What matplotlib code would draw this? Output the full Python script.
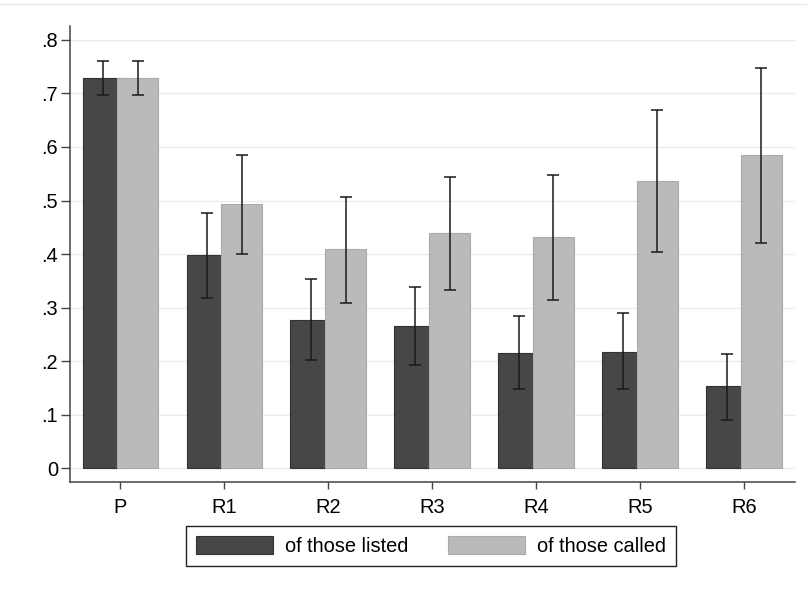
import matplotlib

matplotlib.use("Agg")
import matplotlib.pyplot as plt  # noqa: E402
import numpy as np  # noqa: E402
from matplotlib.lines import Line2D  # noqa: E402

plt.rcParams["font.family"] = ["Liberation Sans", "DejaVu Sans"]

groups = ["P", "R1", "R2", "R3", "R4", "R5", "R6"]

# share of those listed, with 95% CI
listed = [0.729, 0.398, 0.277, 0.266, 0.216, 0.218, 0.153]
listed_lo = [0.697, 0.319, 0.202, 0.193, 0.148, 0.148, 0.090]
listed_hi = [0.760, 0.477, 0.353, 0.339, 0.285, 0.290, 0.213]

# share of those called, with 95% CI
called = [0.729, 0.493, 0.409, 0.440, 0.431, 0.536, 0.584]
called_lo = [0.697, 0.401, 0.309, 0.333, 0.314, 0.403, 0.420]
called_hi = [0.760, 0.584, 0.507, 0.543, 0.548, 0.668, 0.748]

DARK = "#474747"
LIGHT = "#bababa"
FS = 14.4

fig = plt.figure(figsize=(8.07, 5.91), dpi=100)
W, H = 807, 591
ax = fig.add_axes([70 / W, 1 - 482 / H, 725 / W, 456 / H])

x = np.arange(len(groups))
width = 0.395
off = 0.167

ax.bar(x - off, listed, width, color=DARK, edgecolor="#333333", linewidth=0.8, zorder=2,
       label="of those listed")
ax.bar(x + off, called, width, color=LIGHT, edgecolor="#aaaaaa", linewidth=0.8, zorder=3,
       label="of those called")

for xs, v, lo, hi in [(x - off, listed, listed_lo, listed_hi),
                      (x + off, called, called_lo, called_hi)]:
    v = np.array(v)
    yerr = [v - np.array(lo), np.array(hi) - v]
    ax.errorbar(xs, v, yerr=yerr, fmt="none", ecolor="#1a1a1a", elinewidth=1.1,
                capsize=4.5, capthick=1.1, zorder=4)

ax.set_xlim(-0.486, 6.492)
ax.set_ylim(-0.0252, 0.8256)
yt = np.arange(0, 0.81, 0.1)
ax.set_yticks(yt)
ax.set_yticklabels(["0"] + [f"{t:.1f}".lstrip("0") for t in yt[1:]])
ax.set_xticks(x)
ax.set_xticklabels(groups)

ax.grid(axis="y", color="#ebebeb", linewidth=1.0, zorder=0)
ax.set_axisbelow(True)
for s in ("top", "right"):
    ax.spines[s].set_visible(False)
for s in ("left", "bottom"):
    ax.spines[s].set_color("#444444")
    ax.spines[s].set_linewidth(1.1)
ax.tick_params(axis="y", length=6.7, width=1.0, color="#444444", labelsize=FS, pad=2)
ax.tick_params(axis="x", length=4.8, width=1.0, color="#444444", labelsize=FS, pad=7)

leg = fig.legend(loc="center", bbox_to_anchor=(431 / W, 1 - 546 / H), ncol=2,
                 fontsize=FS, handlelength=3.85, handleheight=1.0, handletextpad=0.6,
                 columnspacing=2.0, borderpad=0.5, fancybox=False, framealpha=1)
leg.get_frame().set_edgecolor("#222222")
leg.get_frame().set_linewidth(1.0)

fig.add_artist(Line2D([0, 1], [1 - 4 / H] * 2, color="#e8e8e8", linewidth=1.0))

fig.savefig("out.png", dpi=100)
